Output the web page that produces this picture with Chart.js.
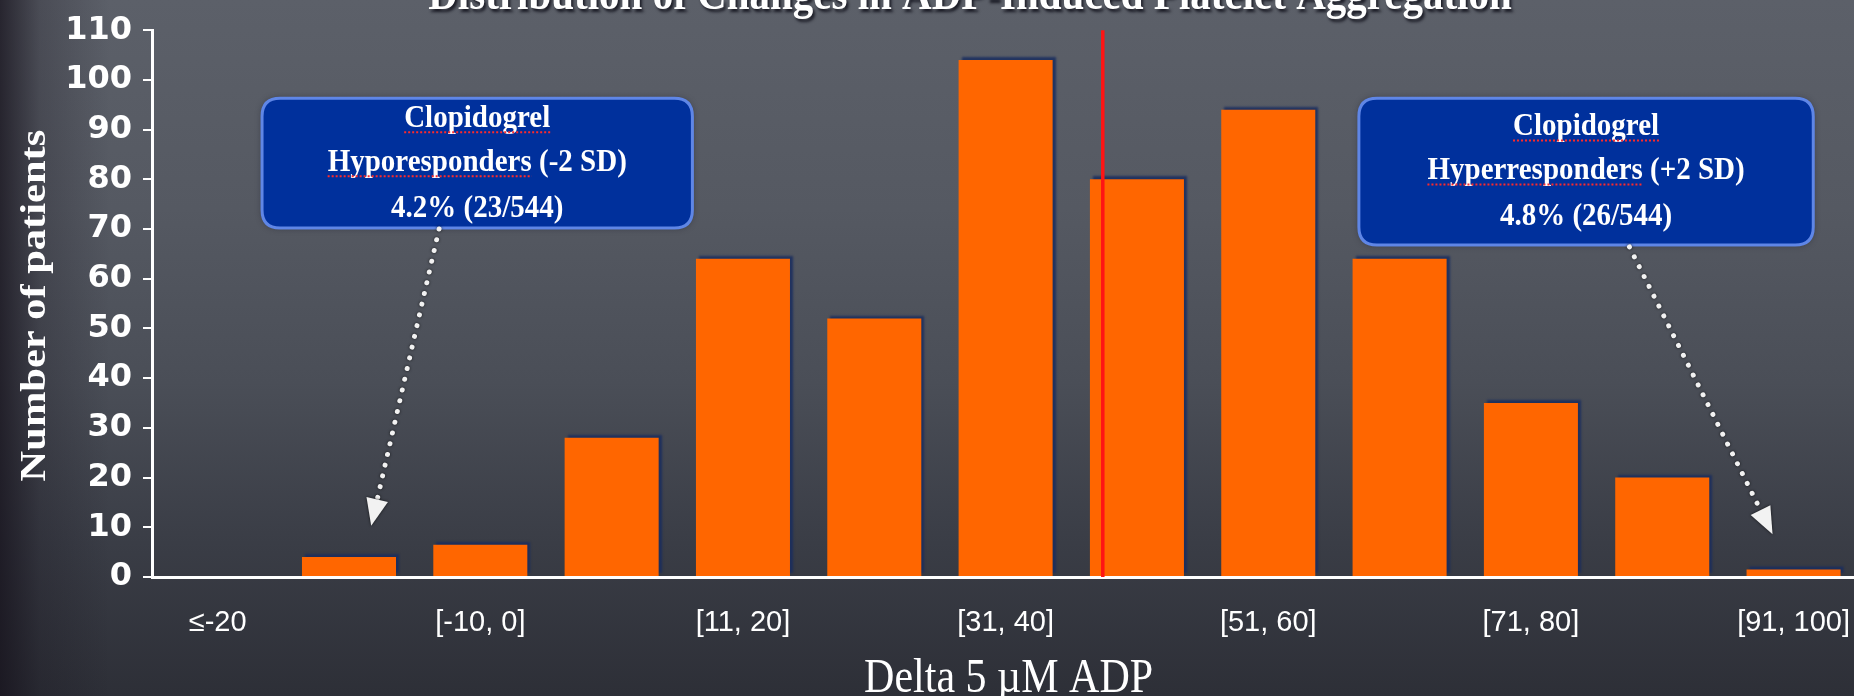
<!DOCTYPE html>
<html>
<head>
<meta charset="utf-8">
<script src="https://cdn.jsdelivr.net/npm/chart.js@4/dist/chart.umd.min.js"></script>
<style>
  html, body { margin: 0; padding: 0; width: 1854px; height: 696px; overflow: hidden; }
  body {
    background:
      linear-gradient(to right, rgba(22,18,28,0.75) 0px, rgba(22,18,28,0.25) 40px, rgba(22,18,28,0) 110px),
      linear-gradient(to bottom, #5c6069 0%, #555962 30%, #4a4e57 55%, #3a3d46 78%, #2d2f37 100%);
  }
  canvas { display: block; }
</style>
</head>
<body>
<canvas id="histo" width="1879" height="696"></canvas>
<script>
// Histogram bins of the change in 5 µM ADP-induced aggregation
const categories = ['≤-20', '[-19, -11]', '[-10, 0]', '[1, 10]', '[11, 20]', '[21, 30]', '[31, 40]',
                    '[41, 50]', '[51, 60]', '[61, 70]', '[71, 80]', '[81, 90]', '[91, 100]'];
const patients = [0, 4, 6.5, 28, 64, 52, 104, 80, 94, 64, 35, 20, 1.5];

// Y axis range and tick step
const yMin = 0;
const yMax = 110;
const yStep = 10;

// Red reference line, in category-index units
const meanPosition = 6.74;

// Texts
const chartTitle = 'Distribution of Changes in ADP-Induced Platelet Aggregation';
const xTitle = 'Delta 5 µM ADP';
const yTitle = 'Number of patients';
const hypoLines = ['Clopidogrel', 'Hyporesponders (-2 SD)', '4.2% (23/544)'];
const hyperLines = ['Clopidogrel', 'Hyperresponders (+2 SD)', '4.8% (26/544)'];

// Callouts in data coordinates: box [x0, x1] x [yTop, yBottom], arrow from -> to
const callouts = [
  { lines: hypoLines,  box: [0.338, 3.615, 96.3, 70.2], from: [1.686, 70.0], to: [1.169, 10.3] },
  { lines: hyperLines, box: [8.69, 12.15, 96.3, 66.8],  from: [10.75, 66.4], to: [11.84, 8.6] }
];

const SERIF = '"Liberation Serif", "Times New Roman", serif';

function stretchedText(ctx, text, x, y, sx, sy) {
  ctx.save();
  ctx.translate(x, y);
  ctx.scale(sx, sy);
  ctx.fillText(text, 0, 0);
  ctx.restore();
}

function roundedBox(ctx, x, y, w, h, r) {
  ctx.beginPath();
  ctx.moveTo(x + r, y);
  ctx.lineTo(x + w - r, y);
  ctx.quadraticCurveTo(x + w, y, x + w, y + r);
  ctx.lineTo(x + w, y + h - r);
  ctx.quadraticCurveTo(x + w, y + h, x + w - r, y + h);
  ctx.lineTo(x + r, y + h);
  ctx.quadraticCurveTo(x, y + h, x, y + h - r);
  ctx.lineTo(x, y + r);
  ctx.quadraticCurveTo(x, y, x + r, y);
  ctx.closePath();
}

function dottedArrow(ctx, x1, y1, x2, y2) {
  const ang = Math.atan2(y2 - y1, x2 - x1);
  const headLen = 27, headW = 11;
  const bx = x2 - Math.cos(ang) * headLen;
  const by = y2 - Math.sin(ang) * headLen;
  ctx.save();
  ctx.shadowColor = 'rgba(0,0,0,0.75)';
  ctx.shadowBlur = 3;
  ctx.strokeStyle = '#f2f2f2';
  ctx.lineWidth = 5;
  ctx.lineCap = 'round';
  ctx.setLineDash([0.01, 11]);
  ctx.beginPath();
  ctx.moveTo(x1, y1);
  ctx.lineTo(bx, by);
  ctx.stroke();
  ctx.setLineDash([]);
  ctx.fillStyle = '#f2f2f2';
  ctx.beginPath();
  ctx.moveTo(x2, y2);
  ctx.lineTo(bx + Math.sin(ang) * headW, by - Math.cos(ang) * headW);
  ctx.lineTo(bx - Math.sin(ang) * headW, by + Math.cos(ang) * headW);
  ctx.closePath();
  ctx.fill();
  ctx.restore();
}

// Bar drop shadow, red line, titles and callouts
const decorations = {
  id: 'decorations',
  beforeDatasetDraw(chart) {
    const ctx = chart.ctx;
    ctx.save();
    ctx.shadowColor = 'rgba(25,45,95,0.85)';
    ctx.shadowOffsetX = 3;
    ctx.shadowOffsetY = -3;
    ctx.shadowBlur = 2;
  },
  afterDatasetDraw(chart) {
    chart.ctx.restore();
  },
  afterDatasetsDraw(chart) {
    const ctx = chart.ctx;
    const xs = chart.scales.x, ys = chart.scales.y;
    const lx = xs.getPixelForValue(meanPosition);
    ctx.save();
    ctx.strokeStyle = '#ff1414';
    ctx.lineWidth = 3.5;
    ctx.beginPath();
    ctx.moveTo(lx, ys.getPixelForValue(yMax));
    ctx.lineTo(lx, ys.getPixelForValue(yMin));
    ctx.stroke();
    ctx.restore();
  },
  afterDraw(chart) {
    const ctx = chart.ctx;
    const xs = chart.scales.x, ys = chart.scales.y;
    const area = chart.chartArea;

    // Chart title (partly above the top edge)
    ctx.save();
    ctx.fillStyle = '#ffffff';
    ctx.font = 'bold 41px ' + SERIF;
    ctx.textAlign = 'center';
    ctx.textBaseline = 'alphabetic';
    ctx.shadowColor = 'rgba(10,10,20,0.8)';
    ctx.shadowOffsetX = 2;
    ctx.shadowOffsetY = 3;
    ctx.shadowBlur = 3;
    stretchedText(ctx, chartTitle, 970, 9, 1, 1.12);
    ctx.restore();

    // Axis titles
    ctx.save();
    ctx.fillStyle = '#ffffff';
    ctx.textAlign = 'center';
    ctx.textBaseline = 'alphabetic';
    ctx.font = '42px ' + SERIF;
    stretchedText(ctx, xTitle, (area.left + area.right) / 2 + 3, 692, 1, 1.16);
    ctx.translate(45, (area.top + area.bottom) / 2 + 2);
    ctx.rotate(-Math.PI / 2);
    ctx.font = 'bold 36px ' + SERIF;
    stretchedText(ctx, yTitle, 0, 0, 1.18, 1);
    ctx.restore();

    // Callout boxes with dotted arrows
    callouts.forEach(c => {
      const x0 = xs.getPixelForValue(c.box[0]);
      const x1 = xs.getPixelForValue(c.box[1]);
      const y0 = ys.getPixelForValue(c.box[2]);
      const y1 = ys.getPixelForValue(c.box[3]);
      ctx.save();
      ctx.shadowColor = 'rgba(20,20,30,0.5)';
      ctx.shadowBlur = 6;
      roundedBox(ctx, x0, y0, x1 - x0, y1 - y0, 18);
      ctx.fillStyle = '#00309c';
      ctx.fill();
      ctx.shadowColor = 'transparent';
      ctx.lineWidth = 3;
      ctx.strokeStyle = '#5f86e6';
      ctx.stroke();
      ctx.restore();

      const cx = (x0 + x1) / 2, cy = (y0 + y1) / 2;
      ctx.save();
      ctx.font = 'bold 29px ' + SERIF;
      ctx.fillStyle = '#ffffff';
      ctx.textAlign = 'center';
      ctx.textBaseline = 'middle';
      const offs = [-45, -1, 45];
      c.lines.forEach((t, i) => stretchedText(ctx, t, cx, cy + offs[i], 1, 1.12));
      // spell-check style red dotted underline under the first word of lines 1 and 2
      ctx.strokeStyle = '#ff2a2a';
      ctx.lineWidth = 2;
      ctx.setLineDash([2, 2]);
      [0, 1].forEach(i => {
        const full = ctx.measureText(c.lines[i]).width;
        const word = ctx.measureText(c.lines[i].split(' ')[0]).width;
        const sx = cx - full / 2;
        const uy = cy + offs[i] + 14;
        ctx.beginPath();
        ctx.moveTo(sx, uy);
        ctx.lineTo(sx + word, uy);
        ctx.stroke();
      });
      ctx.restore();

      dottedArrow(ctx,
        xs.getPixelForValue(c.from[0]), ys.getPixelForValue(c.from[1]),
        xs.getPixelForValue(c.to[0]), ys.getPixelForValue(c.to[1]));
    });
  }
};

new Chart(document.getElementById('histo'), {
  type: 'bar',
  data: {
    labels: categories,
    datasets: [{
      data: patients,
      backgroundColor: '#ff6600',
      borderWidth: 0,
      barPercentage: 1.0,
      categoryPercentage: 0.716
    }]
  },
  options: {
    responsive: false,
    animation: false,
    devicePixelRatio: 1,
    layout: { padding: { top: 30, right: 0, bottom: 0, left: 0 } },
    plugins: {
      legend: { display: false },
      tooltip: { enabled: false },
      title: { display: false }
    },
    scales: {
      x: {
        type: 'category',
        offset: true,
        afterFit(scale) { scale.height = 119; },
        grid: { drawOnChartArea: false, drawTicks: false },
        border: { display: true, color: '#ffffff', width: 3 },
        ticks: {
          autoSkip: false,
          maxRotation: 0,
          padding: 29,
          color: '#ffffff',
          font: { family: '"Liberation Sans", Arial, sans-serif', size: 29 },
          callback(value, index) { return index % 2 === 0 ? categories[index] : ''; }
        }
      },
      y: {
        min: yMin,
        max: yMax,
        afterFit(scale) { scale.width = 152; },
        grid: { drawOnChartArea: false, drawTicks: true, tickLength: 9, color: '#ffffff', lineWidth: 2 },
        border: { display: true, color: '#ffffff', width: 3 },
        ticks: {
          stepSize: yStep,
          padding: 11,
          color: '#ffffff',
          font: { family: '"DejaVu Sans", sans-serif', size: 32, weight: 'bold' }
        }
      }
    }
  },
  plugins: [decorations]
});
</script>
</body>
</html>
